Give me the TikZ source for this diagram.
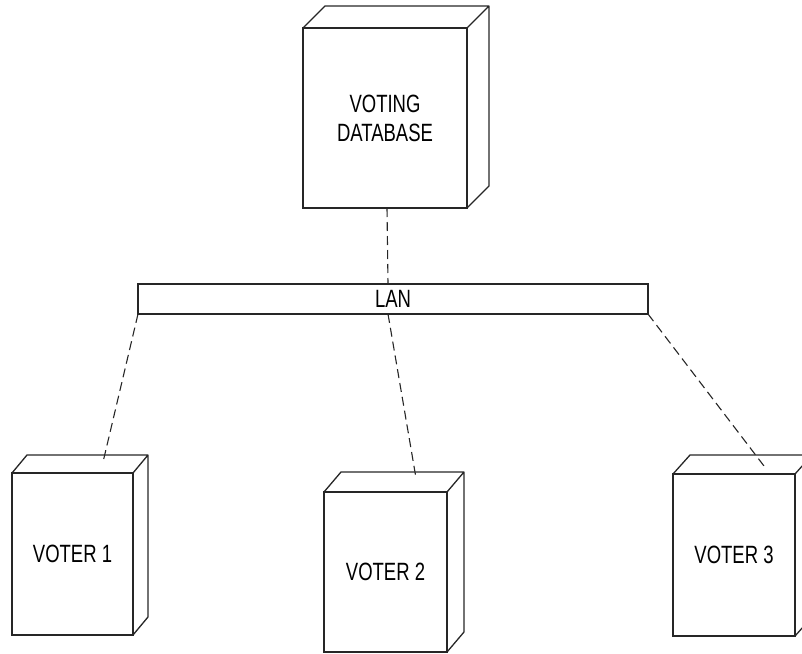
\documentclass[tikz,border=0pt]{standalone}
\usepackage{fontspec}
\newfontfamily\labelfont{Liberation Sans}[FakeStretch=0.74]
\begin{document}
\begin{tikzpicture}[x=1pt,y=-1pt,
  edge/.style={draw=black!85, line width=1.3pt},
  nodebox/.style={edge, fill=white, inner sep=0pt, outer sep=0pt,
    align=center, font=\labelfont\fontsize{25}{29}\selectfont},
  link/.style={draw=black!85, line width=1.1pt, dash pattern=on 9pt off 5pt}]
\useasboundingbox (0,0) rectangle (802,653);
\clip (0,0) rectangle (802,653);

% nodes (front faces)
\node[nodebox, minimum width=164, minimum height=180] (db) at (385,118) {VOTING\\DATABASE};
\node[nodebox, minimum width=510, minimum height=30] (lan) at (393,299) {LAN};
\node[nodebox, minimum width=121, minimum height=162] (v1) at (72.5,554) {VOTER 1};
\node[nodebox, minimum width=123, minimum height=160] (v2) at (385.5,572) {VOTER 2};
\node[nodebox, minimum width=122, minimum height=162] (v3) at (734,555) {VOTER 3};

% depth of the node boxes (top and right faces)
\foreach \n/\dx/\dy in {db/22/22, v1/15/18, v2/17/20, v3/17/19}
  \draw[edge, line join=round]
    (\n.north west) -- ++(\dx,-\dy)
    -- ([shift={(\dx,-\dy)}]\n.north east)
    -- ([shift={(\dx,-\dy)}]\n.south east) -- (\n.south east)
    (\n.north east) -- ++(\dx,-\dy);

% communication links
\draw[link] ([xshift=2]db.south) -- ([xshift=-5]lan.north);
\draw[link] (lan.south west) -- ([shift={(31,-13)}]v1.north);
\draw[link] ([xshift=-5]lan.south) -- ([shift={(30.5,-14)}]v2.north);
\draw[link] (lan.south east) -- ([shift={(30,-8)}]v3.north);
\end{tikzpicture}
\end{document}
